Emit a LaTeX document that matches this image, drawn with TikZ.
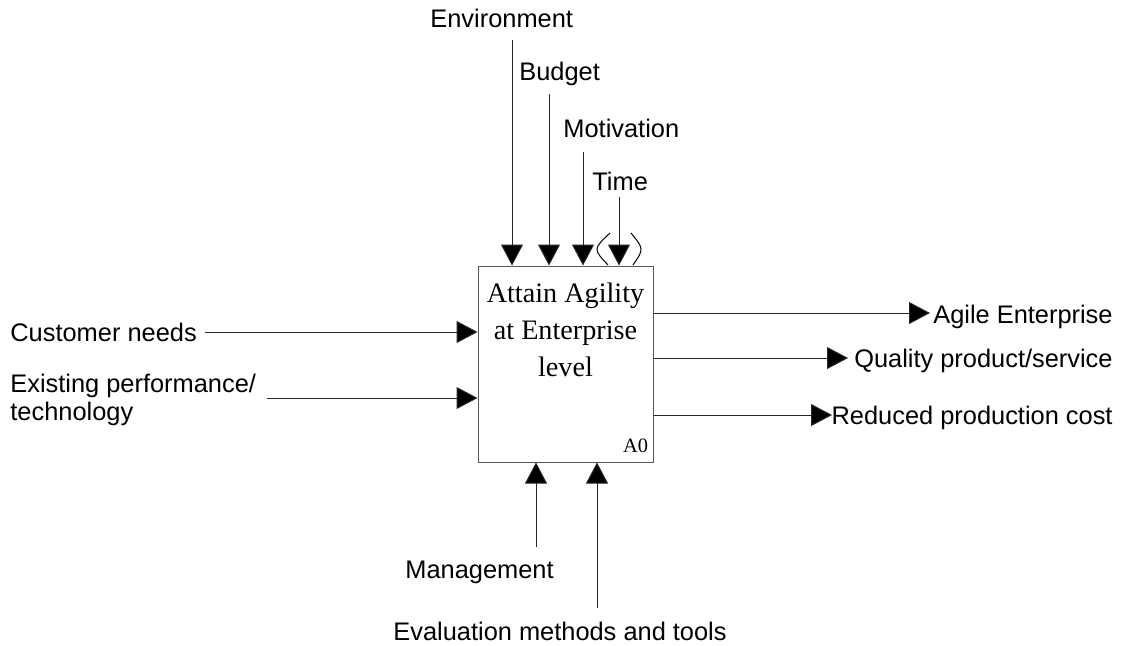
\documentclass[tikz,border=0pt]{standalone}
\usepackage{fontspec}
\setmainfont{Liberation Sans}
\newfontfamily\boxfont{Liberation Serif}
\usetikzlibrary{arrows.meta}

\tikzset{
  flow/.style={draw=black!85, line width=0.5pt,
    -{Triangle[length=10.5pt,width=11pt,fill=black]}},
  lbl/.style={font=\fontsize{12.7}{14}\selectfont, inner sep=0pt},
  actbox/.style={draw=black!65, line width=0.5pt, minimum width=87.5pt,
    minimum height=98pt, inner sep=0pt}
}

\begin{document}
\begin{tikzpicture}[x=0.5pt,y=-0.5pt]
  \useasboundingbox (0,0) rectangle (1122,645);

  % activity box
  \node[actbox] (box) at (565.5,364) {};
  \node[font=\boxfont\fontsize{14.1}{18.5}\selectfont, align=center, inner sep=0pt] (title) at (565.5,330) {Attain Agility\\at Enterprise\\level};
  \node[font=\boxfont\fontsize{10.2}{12}\selectfont, anchor=south east, inner xsep=2.5pt, inner ysep=4.5pt] (num) at (box.south east) {A0};

  % controls
  \node[lbl, anchor=base west] (env) at (430,27) {Environment};
  \node[lbl, anchor=base west] (bud) at (519,80) {Budget};
  \node[lbl, anchor=base west] (mot) at (563,137) {Motivation};
  \node[lbl, anchor=base west] (tim) at (592,190) {Time};
  \coordinate (envS) at (512,40);
  \coordinate (budS) at (549,94);
  \coordinate (motS) at (583,152);
  \coordinate (timS) at (619,197);
  \draw[flow] (envS) -- (envS |- box.north);
  \draw[flow] (budS) -- (budS |- box.north);
  \draw[flow] (motS) -- (motS |- box.north);
  \draw[flow] (timS) -- (timS |- box.north);
  % tunnel
  \draw[line width=0.5pt] (610,233) .. controls (593,249) .. (608,265);
  \draw[line width=0.5pt] (631,233) .. controls (644,249) .. (633,265);

  % inputs
  \node[lbl, anchor=base west] (cus) at (10,341) {Customer needs};
  \node[lbl, anchor=base west, align=left] (exi) at (10,420) {Existing performance/\\technology};
  \coordinate (cusS) at (205,332);
  \coordinate (exiS) at (267,398);
  \draw[flow] (cusS) -- (cusS -| box.west);
  \draw[flow] (exiS) -- (exiS -| box.west);

  % outputs
  \node[lbl, anchor=base east] (agi) at (1113,323) {Agile Enterprise};
  \node[lbl, anchor=base east] (qua) at (1113,367) {Quality product/service};
  \node[lbl, anchor=base east] (red) at (1113,424) {Reduced production cost};
  \coordinate (agiE) at (930,313);
  \coordinate (quaE) at (848,358);
  \coordinate (redE) at (832,415);
  \draw[flow] (agiE -| box.east) -- (agiE);
  \draw[flow] (quaE -| box.east) -- (quaE);
  \draw[flow] (redE -| box.east) -- (redE);

  % mechanisms
  \node[lbl, anchor=base west] (man) at (405,578) {Management};
  \node[lbl, anchor=base west] (eva) at (393,640) {Evaluation methods and tools};
  \coordinate (manS) at (536,547);
  \coordinate (evaS) at (597,608);
  \draw[flow] (manS) -- (manS |- box.south);
  \draw[flow] (evaS) -- (evaS |- box.south);
\end{tikzpicture}
\end{document}
